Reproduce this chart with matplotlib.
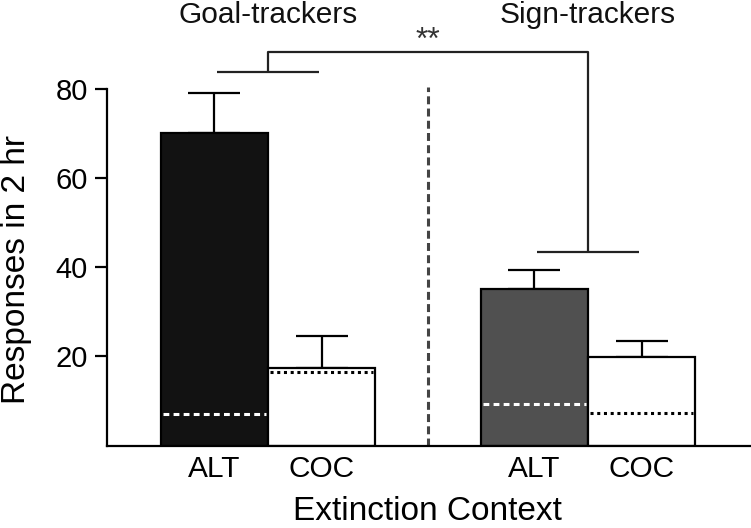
import matplotlib
matplotlib.use("Agg")
import matplotlib.pyplot as plt

plt.rcParams['font.family'] = ['Liberation Sans', 'DejaVu Sans']

# values
groups = ['Goal-trackers', 'Sign-trackers']
contexts = ['ALT', 'COC', 'ALT', 'COC']
means = [70.2, 17.4, 35.1, 19.8]
sems = [9.0, 7.1, 4.2, 3.6]
baselines = [7.0, 16.5, 9.3, 7.3]
fills = ['#121212', 'white', '#505050', 'white']
base_colors = ['white', 'black', 'white', 'black']
base_styles = [(0, (1.9, 1.4)), (0, (1.0, 1.2)), (0, (1.9, 1.4)), (0, (1.0, 1.2))]
xpos = [0, 1, 2.98, 3.98]
signif = '**'

fig = plt.figure(figsize=(7.51, 5.28), dpi=100)
ax = fig.add_axes([107 / 751, 82.5 / 528, 1 - 107 / 751, 1 - 82.5 / 528])

lw = 1.6
ax.bar(xpos, means, width=1.0, color=fills, edgecolor='black', linewidth=lw, zorder=2)
ax.errorbar(xpos, means, yerr=[[0] * 4, sems], fmt='none', ecolor='black',
            elinewidth=lw, capsize=19, capthick=lw, zorder=1)

# baseline lines inside the bars
for x, b, c, s in zip(xpos, baselines, base_colors, base_styles):
    ax.plot([x - 0.48, x + 0.48], [b, b], color=c, linestyle=s, linewidth=2.2, zorder=3)

# group divider
mid = (xpos[1] + xpos[2]) / 2
ax.plot([mid, mid], [0, 80.5], color='#444444', linestyle=(0, (2.6, 1.4)), linewidth=2.2)

# group-level comparison bracket
gt_c = (xpos[0] + xpos[1]) / 2
st_c = (xpos[2] + xpos[3]) / 2
gt_top = max(m + e for m, e in zip(means[:2], sems[:2])) + 4.6
st_top = max(m + e for m, e in zip(means[2:], sems[2:])) + 4.1
bar_top = 88.3
kw = dict(color='#222222', linewidth=lw, solid_capstyle='butt')
ax.plot([gt_c - 0.475, gt_c + 0.475], [gt_top, gt_top], **kw)
ax.plot([st_c - 0.475, st_c + 0.475], [st_top, st_top], **kw)
ax.plot([gt_c, gt_c, st_c, st_c], [gt_top, bar_top, bar_top, st_top], **kw)
ax.text(mid, 89.0, signif, ha='center', va='baseline', fontsize=23, color='#333333')

for name, cx in zip(groups, [gt_c, st_c]):
    ax.text(cx, 94.8, name, ha='center', va='baseline', fontsize=21.5, color='#111111')

ax.set_xlim(-1, 5)
ax.set_ylim(0, 100)
ax.set_xticks(xpos)
ax.set_xticklabels(contexts, fontsize=21.5)
ax.tick_params(axis='x', length=0, pad=7)
ax.set_yticks([20, 40, 60, 80])
ax.tick_params(axis='y', length=8.6, width=lw, labelsize=21, pad=5)
ax.set_xlabel('Extinction Context', fontsize=24, va='top')
ax.xaxis.set_label_coords(0.497, -0.113)
ax.set_ylabel('Responses in 2 hr', fontsize=24)
ax.yaxis.set_label_coords(-0.116, 0.394)

for sp in ['top', 'right']:
    ax.spines[sp].set_visible(False)
ax.spines['left'].set_bounds(0, 80)
ax.spines['left'].set_linewidth(lw)
ax.spines['bottom'].set_linewidth(lw)

fig.savefig('out.png', dpi=100)
